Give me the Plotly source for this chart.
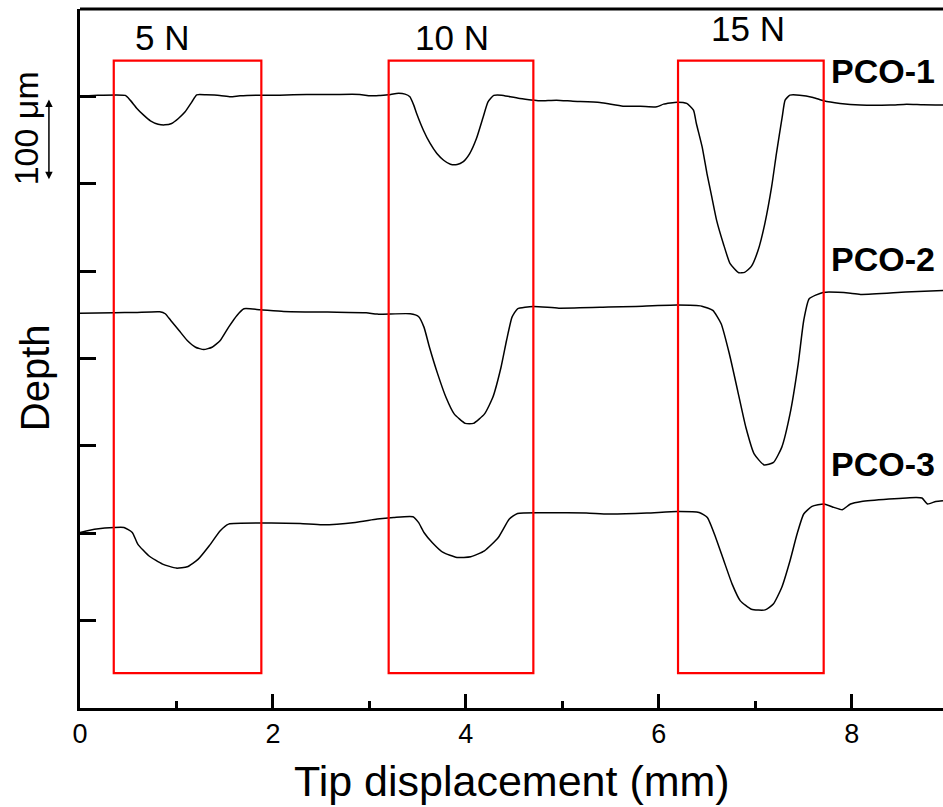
import plotly.graph_objects as go

# Scratch-track depth profiles (x in mm, height in µm, curves stacked with offsets)
x_pco1 = [0, 0.14, 0.47, 0.52, 0.59, 0.66, 0.73, 0.81, 0.88, 0.95, 1.02, 1.09, 1.16, 1.21, 1.31,
          1.45, 1.56, 1.66, 1.87, 2.07, 2.35, 2.63, 2.90, 3.01, 3.11, 3.20, 3.28, 3.37, 3.42, 3.46,
          3.49, 3.56, 3.63, 3.70, 3.77, 3.84, 3.91, 3.97, 4.04, 4.11, 4.18, 4.23, 4.29, 4.37, 4.46,
          4.56, 4.70, 4.77, 4.94, 5.11, 5.39, 5.63, 5.81, 5.98, 6.05, 6.19, 6.29, 6.36, 6.39, 6.45,
          6.50, 6.55, 6.60, 6.67, 6.74, 6.83, 6.89, 6.96, 7.03, 7.10, 7.17, 7.22, 7.28, 7.31, 7.36,
          7.46, 7.60, 7.71, 7.88, 8.09, 8.40, 8.57, 8.74, 8.95]
y_pco1 = [700.6, 701.1, 701.1, 695.7, 686.2, 678.5, 672.0, 668.2, 667.4, 669.0, 674.7, 682.3, 693.7,
          701.8, 701.8, 701.1, 699.5, 700.6, 701.4, 701.4, 702.2, 702.2, 702.2, 700.6, 701.1, 701.8,
          703.4, 702.6, 699.5, 690.0, 680.4, 661.3, 646.1, 634.6, 626.9, 622.3, 622.0, 625.0, 634.6,
          651.8, 676.5, 693.7, 701.1, 701.4, 699.5, 697.6, 695.7, 694.9, 695.7, 694.5, 693.0, 688.8,
          688.8, 688.0, 691.1, 693.4, 691.9, 684.2, 669.0, 642.2, 611.7, 584.9, 558.1, 531.4, 508.5,
          498.2, 498.6, 505.4, 523.8, 554.4, 596.3, 634.6, 676.5, 695.7, 701.4, 701.4, 698.8, 694.9,
          691.9, 690.0, 690.0, 691.1, 690.3, 690.0]

x_pco2 = [0, 0.354, 0.570, 0.827, 0.884, 0.941, 1.027, 1.112, 1.198, 1.283, 1.369, 1.454, 1.541,
          1.627, 1.700, 1.871, 2.111, 2.568, 2.967, 3.081, 3.423, 3.509, 3.566, 3.623, 3.708, 3.794,
          3.879, 3.994, 4.079, 4.194, 4.280, 4.365, 4.422, 4.479, 4.536, 4.701, 4.964, 5.477, 5.763,
          6.190, 6.447, 6.561, 6.647, 6.732, 6.818, 6.903, 6.989, 7.092, 7.190, 7.275, 7.361, 7.446,
          7.503, 7.560, 7.703, 7.988, 8.102, 8.559, 8.947]
y_pco2 = [451.9, 452.4, 452.7, 453.5, 451.2, 443.5, 432.1, 420.6, 412.9, 410.3, 412.9, 420.6, 435.9,
          449.3, 456.9, 455.8, 453.9, 453.1, 452.4, 450.8, 451.2, 448.1, 435.9, 412.9, 382.4, 355.6,
          336.6, 325.8, 325.8, 336.6, 355.6, 390.0, 420.6, 447.3, 456.9, 459.6, 457.6, 458.8, 459.6,
          461.1, 459.9, 455.0, 439.8, 405.4, 363.3, 321.3, 290.8, 278.2, 281.1, 298.3, 336.6, 393.9,
          443.5, 468.4, 475.6, 474.8, 473.3, 476.0, 477.9]

x_pco3 = [0, 0.171, 0.354, 0.456, 0.542, 0.599, 0.713, 0.856, 0.998, 1.112, 1.226, 1.340, 1.454,
          1.541, 1.883, 2.282, 2.511, 2.853, 3.081, 3.252, 3.452, 3.509, 3.566, 3.651, 3.765, 3.908,
          4.051, 4.193, 4.337, 4.451, 4.536, 4.850, 5.249, 5.477, 5.877, 6.190, 6.419, 6.504, 6.590,
          6.675, 6.761, 6.846, 6.960, 7.103, 7.188, 7.275, 7.361, 7.434, 7.503, 7.589, 7.714, 7.817,
          7.902, 7.988, 8.102, 8.387, 8.672, 8.729, 8.787, 8.872, 8.947]
y_pco3 = [200.9, 204.8, 206.6, 206.6, 200.9, 187.6, 174.2, 164.7, 160.1, 161.6, 170.4, 185.7, 202.9,
          210.5, 211.7, 211.2, 209.7, 212.4, 216.3, 218.1, 218.9, 212.4, 200.9, 189.5, 178.0, 172.3,
          173.1, 179.9, 195.2, 216.3, 222.7, 223.5, 223.1, 222.0, 223.1, 225.0, 223.8, 218.1, 195.2,
          168.5, 141.8, 122.6, 113.1, 112.3, 118.9, 137.9, 168.5, 199.1, 222.0, 230.7, 233.5, 229.6,
          226.9, 233.5, 236.4, 239.2, 241.0, 240.3, 233.5, 236.4, 237.2]

sample_names = ["PCO-1", "PCO-2", "PCO-3"]
sample_label_x = [8.33, 8.33, 8.33]
sample_label_y = [729, 514, 279]

load_names = ["5 N", "10 N", "15 N"]
load_label_x = [0.85, 3.86, 6.93]
load_label_y = [767, 767, 778]
box_left = [0.35, 3.20, 6.20]
box_right = [1.88, 4.70, 7.71]
box_bottom = 40
box_top = 741

x_ticks = [0, 2, 4, 6, 8]
y_ticks = [100, 200, 300, 400, 500, 600, 700]
scale_bar = [600, 700]  # 100 µm

FONT = "Liberation Sans, Arial, sans-serif"

fig = go.Figure()
for xs, ys in [(x_pco1, y_pco1), (x_pco2, y_pco2), (x_pco3, y_pco3)]:
    fig.add_trace(go.Scatter(
        x=xs, y=ys, mode="lines",
        line=dict(color="black", width=1.5, shape="spline", smoothing=0.5),
        showlegend=False, hoverinfo="skip",
    ))

# Load windows
for x0, x1 in zip(box_left, box_right):
    fig.add_shape(type="rect", xref="x", yref="y", x0=x0, x1=x1, y0=box_bottom, y1=box_top,
                  line=dict(color="#ff0000", width=2.2), fillcolor="rgba(0,0,0,0)")

for name, lx, ly in zip(load_names, load_label_x, load_label_y):
    fig.add_annotation(x=lx, y=ly, xref="x", yref="y", text=name, showarrow=False,
                       xanchor="center", yanchor="middle",
                       font=dict(family=FONT, size=35, color="black"))

for name, lx, ly in zip(sample_names, sample_label_x, sample_label_y):
    fig.add_annotation(x=lx, y=ly, xref="x", yref="y", text="<b>%s</b>" % name, showarrow=False,
                       xanchor="center", yanchor="middle",
                       font=dict(family=FONT, size=34, color="black"))

# Top frame line
fig.add_shape(type="line", xref="paper", yref="paper", x0=0, x1=1, y0=1, y1=1,
              line=dict(color="black", width=3))

# 100 µm scale bar: double-headed arrow spanning one tick interval
bar_px = 699 / 800 * (scale_bar[1] - scale_bar[0])
fig.add_annotation(x=-0.036, y=scale_bar[1], xref="paper", yref="y",
                   ax=0, ay=bar_px, axref="pixel", ayref="pixel",
                   text="", showarrow=True, arrowhead=2, arrowside="end+start",
                   arrowsize=1, arrowwidth=1.5, arrowcolor="black",
                   standoff=3, startstandoff=3)
fig.add_annotation(x=-0.063, y=663, xref="paper", yref="y", text="100 μm", textangle=-90,
                   xanchor="center", yanchor="middle",
                   showarrow=False, font=dict(family=FONT, size=34, color="black"))

# Axis titles
fig.add_annotation(x=-0.052, y=0.472, xref="paper", yref="paper", text="Depth", textangle=-90,
                   xanchor="center", yanchor="middle",
                   showarrow=False, font=dict(family=FONT, size=40, color="black"))
fig.add_annotation(x=0.5, y=-0.105, xref="paper", yref="paper", text="Tip displacement (mm)",
                   xanchor="center", yanchor="middle",
                   showarrow=False, font=dict(family=FONT, size=43, color="black"))

fig.update_xaxes(
    range=[0, 8.947], tickvals=x_ticks, ticks="inside", ticklen=14, tickwidth=2.5,
    tickcolor="black", showline=True, linecolor="black", linewidth=3, showgrid=False,
    zeroline=False, tickfont=dict(family=FONT, size=27, color="black"),
    minor=dict(ticks="inside", ticklen=7, tickwidth=2.5, tickcolor="black", dtick=1, tick0=0,
               showgrid=False),
)
fig.update_yaxes(
    range=[0, 800], tickvals=y_ticks, ticks="inside", ticklen=16, tickwidth=2.5,
    tickcolor="black", showline=True, linecolor="black", linewidth=3, showgrid=False,
    zeroline=False, showticklabels=False,
)
fig.update_layout(
    width=943, height=807, margin=dict(l=80, r=0, t=9, b=99),
    paper_bgcolor="white", plot_bgcolor="white",
)
fig.write_html("out.html")
